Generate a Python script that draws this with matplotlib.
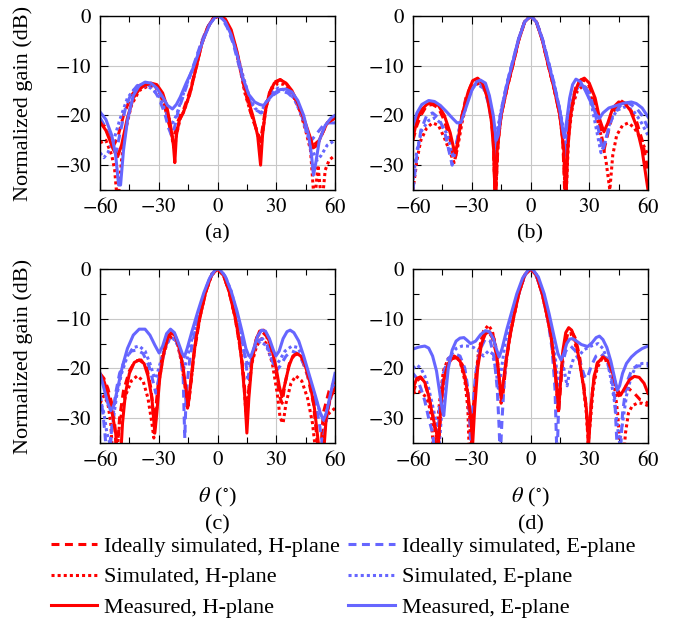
import numpy as np
import matplotlib.pyplot as plt
from matplotlib.ticker import MultipleLocator, FuncFormatter
from matplotlib.lines import Line2D

plt.rcParams['font.family'] = 'Liberation Serif'
plt.rcParams['mathtext.fontset'] = 'stix'
plt.rcParams['font.size'] = 16

RED = '#ff0000'
BLUE = '#6666ff'

# (theta deg, normalized gain dB)
A_IDEAL_H = [(-60,-21),(-57,-22.5),(-54.5,-25),(-53,-26),(-51,-24.5),(-48,-20),(-44,-16),(-40,-14),(-36,-13.5),(-32,-14),(-29,-16),(-26,-19.5),(-24,-23),(-22.5,-25),(-21,-22),(-19,-20),(-17,-18.5),(-14,-15),(-11,-10.5),(-8,-5.5),(-5,-2.3),(-2,-0.4),(0.5,0),(3,-0.6),(6,-2.3),(9,-6),(11.5,-10.5),(14,-15),(17,-19.5),(20,-23),(22,-25),(24,-20),(26,-16),(29,-13.3),(32,-12.8),(35,-13.5),(39,-16),(43,-20),(46,-23.5),(49,-26),(52,-25),(56,-21.5),(60,-20.5)]
A_SIM_H = [(-60,-25.5),(-57,-25),(-54,-28),(-52.5,-31),(-51,-38),(-49,-29),(-47,-23),(-44,-18),(-40,-15),(-35,-14),(-31,-14.5),(-28,-16.5),(-25,-21),(-23,-25),(-22,-27),(-21,-24),(-19,-20.5),(-17,-19),(-14,-15.5),(-11,-10.5),(-8,-5.5),(-5,-2.3),(-2,-0.4),(0.5,0),(3,-0.6),(6,-2.5),(9,-6.3),(11.5,-10.5),(14,-15.5),(17,-19.5),(20,-23),(22,-27),(23.5,-22),(25,-18),(28,-14.5),(31,-13.5),(34,-13.8),(38,-15.5),(42,-19),(45,-23),(47.5,-27),(49.5,-38),(51.3,-30),(53.3,-38),(55,-31),(57,-29),(60,-28)]
A_MEAS_H = [(-60,-21.3),(-57,-23),(-55,-25),(-53,-27),(-51,-28.3),(-49,-26),(-46,-20.5),(-43,-16.5),(-40,-14.8),(-37.5,-14),(-34,-13.5),(-31,-13.8),(-28,-15.5),(-26,-18),(-24,-22),(-22.5,-26),(-21.8,-29.5),(-21,-24),(-19.5,-21),(-17.5,-19.5),(-14,-15.5),(-11,-10.5),(-8,-5.5),(-5,-2.3),(-2,-0.4),(1,0),(4,-0.6),(7,-2.8),(10,-7.2),(12,-11),(15,-16),(18,-20),(20.5,-24),(22,-30),(23,-24),(24.5,-19),(26.5,-15.5),(29,-13.5),(32,-12.8),(35,-13.5),(38,-15),(41,-17.5),(44,-20.5),(47,-24),(49,-26.5),(51,-26),(53,-24),(56,-21.5),(60,-20.5)]
A_IDEAL_E = [(-60,-20.5),(-57,-22.5),(-54,-26),(-52,-28),(-50,-24),(-47,-18.5),(-44,-15.5),(-41,-14),(-37,-13.5),(-33,-14.5),(-30,-16.5),(-27,-19.5),(-25,-22.5),(-23.5,-24),(-22,-22.5),(-20,-19),(-17,-15.5),(-14,-12),(-11,-8.5),(-8,-5),(-5,-2.2),(-2,-0.4),(0,0),(2,-0.3),(5,-2.3),(8,-5.5),(11,-10),(14,-14.5),(17,-17.5),(20,-19),(22.5,-19.5),(25,-17.5),(28,-16),(32,-15),(36,-15.5),(40,-17),(43,-20),(46,-24),(48,-25),(50,-24),(54,-22),(57,-21.5),(60,-21.5)]
A_SIM_E = [(-60,-27.5),(-58,-28.5),(-56,-27.5),(-53,-25),(-50,-21),(-46,-16.5),(-42,-14.5),(-38,-14),(-34,-14.5),(-30,-16),(-27,-18.5),(-25,-20.5),(-23,-21.5),(-21,-20),(-19,-17.5),(-16,-14),(-13,-11),(-10,-7.5),(-7,-4.2),(-4,-1.6),(-1,-0.1),(1,0),(4,-1),(7,-3.6),(10,-7.5),(13,-12),(16,-16),(19,-18.5),(22,-19.5),(24,-18),(27,-15.5),(31,-14.5),(35,-15),(39,-16.5),(43,-20),(46,-24),(49,-27.5),(51,-29),(53,-28),(56,-26),(60,-25)]
A_MEAS_E = [(-60,-19.3),(-57,-20.8),(-54,-24),(-52,-28),(-50.5,-34),(-49.5,-34),(-48,-27),(-46,-21),(-43,-16),(-40,-14),(-37,-13.3),(-34,-13.5),(-31,-14.5),(-28,-16.3),(-25.5,-18),(-23,-18.7),(-21,-17.8),(-19,-16.3),(-16,-13.5),(-13,-11),(-10,-7.8),(-7,-4.5),(-4,-1.7),(-1,-0.1),(1,0),(4,-1.2),(7,-3.8),(10,-7.8),(13,-12.5),(16,-15.8),(19,-17.3),(21.5,-17.8),(23.5,-18),(26,-16.8),(29,-15.5),(32,-14.8),(35,-14.7),(38,-15.3),(41,-17),(44,-20),(46.5,-24),(48,-28),(49,-32),(50,-30),(52,-25),(55,-22),(58,-20.5),(60,-20)]

B_IDEAL_H = [(-60,-25),(-58,-22),(-56,-20),(-53,-18),(-50,-17.8),(-47,-18.5),(-44,-21),(-41,-25),(-39,-29),(-38,-28),(-36,-22),(-33,-16.5),(-30,-13.5),(-27,-12.8),(-24,-13.8),(-22,-16),(-20,-20.5),(-19,-25),(-18,-38),(-16.5,-25),(-15,-20),(-12,-14.5),(-9,-9.8),(-6,-4.8),(-3,-1.2),(0,0),(3,-1.2),(6,-4.8),(9,-9.8),(12,-14.5),(15,-20),(16.5,-25),(17.7,-38),(19,-25),(20.5,-19),(23,-14.5),(26,-12.8),(29,-13.2),(32,-16),(35,-21),(37.5,-27),(39,-24.5),(42,-19.5),(46,-17),(50,-18),(54,-21),(57,-25),(60,-31)]
B_SIM_H = [(-60,-35),(-58,-29),(-56,-25),(-53,-22.5),(-50,-21.5),(-47,-22),(-44,-24.5),(-41,-27.5),(-39,-29.5),(-37,-26),(-35,-21.5),(-32,-16.5),(-29,-14),(-26,-13.5),(-23,-15),(-21,-18),(-19,-24),(-18,-38),(-16.5,-25),(-15,-20),(-12,-14.5),(-9,-9.8),(-6,-4.8),(-3,-1.2),(0,0),(3,-1.2),(6,-4.8),(9,-9.8),(12,-14.5),(15,-20),(16.5,-25),(18,-38),(19.5,-24),(21.5,-18),(24,-15),(27,-14),(30,-15),(33,-19),(36,-24),(38.5,-29),(40.5,-35),(42,-28),(44,-24),(47,-22),(50,-21.5),(53,-22.5),(56,-24.5),(60,-28)]
B_MEAS_H = [(-60,-24.5),(-58,-21),(-56,-19),(-53,-17.8),(-50,-17.3),(-47,-18),(-44,-20),(-41,-23.5),(-39,-27),(-38.3,-27.5),(-37,-25),(-35,-20),(-32,-15.5),(-29.5,-13),(-27,-12.5),(-24.5,-13.5),(-22,-16.5),(-20,-21),(-18.8,-27),(-18,-38),(-17,-27),(-15,-20),(-12,-14.5),(-9,-9.8),(-6,-4.8),(-3,-1.2),(0,0),(3,-1.2),(6,-4.8),(9,-9.8),(12,-14.5),(15,-20),(17,-27),(18,-38),(19,-27),(20.5,-20),(22.5,-15.5),(25,-13),(27.5,-12.5),(30,-13.5),(33,-16.5),(35.5,-21),(37.5,-23.3),(39.5,-21.5),(42,-18.5),(45,-17.3),(48,-17.5),(51,-19),(54,-22),(57,-27),(60,-35)]
B_IDEAL_E = [(-60,-35),(-58,-28),(-56,-23),(-53,-20),(-50,-19.5),(-47,-20.5),(-44,-23),(-42,-26.5),(-40,-30),(-38.5,-27),(-36,-22),(-33,-17),(-30,-14.5),(-27,-13.8),(-24,-14.5),(-21.5,-17.5),(-19.5,-22),(-18,-28),(-17,-24),(-15,-19),(-12,-13.5),(-9,-9),(-6,-4.5),(-3,-1.1),(0,0),(3,-1.1),(6,-4.5),(9,-9),(12,-13.5),(15,-19),(17,-24),(18,-28),(19.5,-22),(21.5,-17),(24,-14),(27,-13.8),(30,-15.5),(33,-19.5),(35.5,-24.5),(37,-27),(39,-24),(42,-20),(46,-18),(50,-17.5),(54,-18.5),(57,-20),(60,-22.5)]
B_SIM_E = [(-60,-33),(-58,-27),(-55.5,-23),(-52,-21),(-49,-20.5),(-46,-21.5),(-43,-23.5),(-41,-26),(-39.5,-28.5),(-38,-26),(-35.5,-21),(-32,-16.5),(-29,-14),(-26,-13.5),(-23,-14.5),(-21,-17),(-19.5,-21),(-18.3,-27),(-17,-23),(-15,-19),(-12,-13.5),(-9,-9),(-6,-4.5),(-3,-1.1),(0,0),(3,-1.1),(6,-4.5),(9,-9),(12,-13.5),(15,-19),(17,-23),(18.3,-26),(20,-20),(22.5,-15.5),(25.5,-13.5),(28.5,-14.5),(31.5,-18.5),(34,-23.5),(36,-27.5),(38,-25.5),(40.5,-21.5),(44,-19),(48,-18.3),(52,-18.8),(56,-21),(60,-24)]
B_MEAS_E = [(-60,-22),(-58,-19.5),(-55.5,-17.8),(-52,-17),(-49,-17.2),(-46,-18),(-43,-19.2),(-40,-20.5),(-37.5,-21.5),(-35.5,-21.4),(-33,-18.5),(-30,-15),(-27.5,-13.2),(-25.5,-12.9),(-23,-13.5),(-21,-16),(-19,-20),(-17.5,-25),(-16.5,-24),(-15,-19.5),(-12,-13.8),(-9,-9.2),(-6,-4.6),(-3,-1.2),(0,0),(3,-1.2),(6,-4.6),(9,-9.2),(12,-13.8),(15,-19),(16.5,-23),(17.3,-24.5),(18.5,-21),(20,-16.5),(21.5,-13.8),(23.2,-12.7),(25.5,-13.2),(28,-15),(31,-17.5),(33.5,-19.8),(35.2,-20.6),(37,-19.5),(40,-18.5),(44,-18),(48,-17.5),(51.5,-17.3),(54,-17.6),(57,-18.5),(60,-20.3)]

C_IDEAL_H = [(-60,-21),(-58,-22),(-56,-24),(-54,-27),(-52.5,-31),(-51.5,-38),(-50,-30),(-48,-24.5),(-45,-20.5),(-42,-18.5),(-39,-18.3),(-36,-20),(-34,-24),(-32.5,-30),(-31.5,-28),(-30,-22),(-28,-17),(-25.5,-13.5),(-23.5,-12.8),(-21,-14),(-18.5,-18),(-16.5,-24),(-15.3,-28),(-14.5,-26),(-13,-21),(-12,-17),(-9,-9.7),(-6,-4.6),(-3,-1.2),(0,0),(3,-1.2),(6,-4.6),(9,-9.7),(12,-17),(13.5,-22),(15,-31),(16,-24),(17.5,-18),(20,-13.8),(22.5,-12.5),(25,-13.5),(28,-17),(30.5,-22),(32,-26),(33,-27),(34.5,-23),(37,-18.5),(40,-17),(43,-18),(46,-21.5),(49,-27),(51,-35),(52.5,-38),(54,-29),(57,-24.5),(60,-22.5)]
C_SIM_H = [(-60,-27),(-58,-25.5),(-56,-27),(-54.5,-31),(-53.5,-38),(-51.5,-38),(-50,-31),(-47,-25.5),(-44,-22.5),(-41,-21.5),(-38,-22.5),(-35.5,-26),(-33.5,-31),(-32.5,-34),(-31.5,-30),(-30,-23),(-28,-18),(-25.5,-14.5),(-23,-13.5),(-20.5,-15),(-18.5,-18.5),(-16.5,-24),(-15.5,-28),(-14.5,-26),(-13,-21),(-12,-17),(-9,-9.7),(-6,-4.6),(-3,-1.2),(0,0),(3,-1.2),(6,-4.6),(9,-9.7),(12,-17),(13.5,-23),(14.5,-29),(15.5,-26),(17.5,-19),(20,-15.5),(22.5,-14),(25,-15),(28,-19),(30.5,-25),(32,-30),(33.5,-31),(35,-27),(37.5,-23),(40,-21.5),(43,-22.5),(46,-26),(48.5,-31),(50.5,-38),(52.5,-38),(54.5,-31),(57,-29),(60,-28)]
C_MEAS_H = [(-60,-21.5),(-58,-22.5),(-56,-25),(-54,-28.5),(-52,-33),(-51,-38),(-49.5,-38),(-48.5,-31),(-47,-25),(-45,-21),(-42.5,-18.8),(-40,-18.3),(-37.5,-19),(-35.5,-21.5),(-33.5,-26),(-32,-33),(-31,-29),(-29.5,-22),(-27.5,-17),(-25.5,-14),(-23.5,-12.8),(-21.5,-13.5),(-19.5,-16),(-17.5,-20),(-15.8,-25),(-15,-27.5),(-14,-24),(-12.5,-18.5),(-11,-14),(-9,-9.7),(-6,-4.6),(-3,-1.2),(0,0),(3,-1.2),(6,-4.6),(9,-9.7),(11,-14),(12.5,-19),(14,-26),(15,-33),(16,-26),(17.5,-19),(19.5,-14.5),(21.5,-12.5),(23.5,-12.3),(25.5,-13.5),(28,-16.5),(30,-20),(31.5,-23.5),(32.9,-25.7),(34.5,-23),(36.5,-19.5),(38.5,-17.5),(40.5,-17),(42.5,-17.5),(44.5,-19),(47,-22.5),(49.5,-28),(51.5,-35),(52.5,-38),(54,-38),(55.5,-30),(57.5,-26),(60,-24)]
C_IDEAL_E = [(-60,-25),(-58.5,-29),(-57.5,-33),(-56.5,-38),(-55,-38),(-54,-32),(-52,-25),(-50,-21),(-47,-18),(-44,-16.5),(-41,-16.3),(-38,-17),(-35,-19.5),(-33,-22.5),(-31.5,-25),(-30,-22),(-28,-18),(-26,-15),(-23.5,-13.5),(-21,-14.5),(-19,-17),(-17.5,-22),(-17,-30),(-16.7,-34),(-16,-25),(-14,-17.5),(-12,-13.5),(-9,-8.5),(-6,-4),(-3,-1),(0,0),(3,-1),(6,-4),(9,-8.5),(12,-13.5),(14,-17.5),(15.5,-22),(16.5,-20),(18,-17),(20.5,-14.5),(23,-14),(25.5,-15.5),(28,-18.5),(30,-20.5),(32,-19.5),(35,-17.5),(38,-16.5),(41,-17),(44,-19),(47,-22.5),(50,-27),(52,-31),(53.5,-35),(55,-32),(57,-27),(60,-23)]
C_SIM_E = [(-60,-26),(-58,-29),(-56.5,-33),(-55,-35),(-53.5,-31),(-51.5,-25.5),(-49,-21),(-46,-17.5),(-43,-15.8),(-40,-15.5),(-37,-16.5),(-34.5,-19),(-32.5,-21.5),(-31.5,-22),(-30,-20),(-27.5,-16.5),(-25,-14.5),(-22.5,-14),(-20,-15.5),(-18,-18.5),(-17,-20),(-15.5,-18),(-13,-14),(-10,-9.5),(-7,-5.3),(-4,-2),(-1,-0.1),(1,0),(4,-1.5),(7,-4.5),(10,-9),(12.5,-14),(14,-17.5),(15.5,-19.5),(17,-18),(19.5,-15.5),(22,-14.5),(25,-15.5),(27.5,-18),(29.5,-19.5),(31.5,-18.5),(34.5,-16.5),(38,-15.5),(41,-15.8),(44,-18),(47,-22),(50,-26),(53,-29.5),(54.5,-30.5),(56.5,-28),(58.5,-25),(60,-23)]
C_MEAS_E = [(-60,-21),(-58,-24),(-56,-27),(-54.5,-28.5),(-53,-27.5),(-51,-24),(-48.5,-19.5),(-46,-16),(-43,-13.3),(-40,-12.1),(-37,-12.1),(-34.5,-13.3),(-32,-15.3),(-29.8,-16.9),(-28,-15.5),(-26,-13),(-24,-12.1),(-22,-12.8),(-20,-14.8),(-18,-17),(-16.9,-17.7),(-15.5,-16),(-13,-12.5),(-10,-8.5),(-7,-4.8),(-4,-1.8),(-1,-0.1),(1,0),(4,-1.5),(7,-4.5),(10,-8.5),(12.5,-12.5),(14.5,-16),(16,-17.5),(17,-17.6),(18.5,-16),(20.5,-13.5),(22.5,-12.3),(24.5,-12.5),(26.5,-14),(28.5,-16.3),(29.8,-17.5),(31.5,-16.5),(33.5,-14),(35.5,-12.6),(37.1,-12.3),(39,-12.8),(41.5,-14.5),(44,-17.5),(47,-21.5),(50,-25.5),(52.5,-29),(54.1,-30.4),(55.5,-29),(57.5,-25.5),(60,-21)]

D_IDEAL_H = [(-60,-25),(-58,-22.5),(-56,-21.8),(-54,-23),(-52,-25.5),(-50,-29),(-48.5,-33),(-47.5,-38),(-46.5,-33),(-45,-24),(-43,-20),(-40,-18),(-37,-17.8),(-34.5,-19.5),(-32.5,-23.5),(-31,-30),(-30.5,-38),(-29.5,-30),(-28,-22),(-26,-16),(-24,-13.3),(-21.5,-12.6),(-19.5,-13.8),(-17.5,-17),(-16,-22),(-15,-27),(-14,-25),(-12.5,-19),(-10.5,-13.5),(-8.5,-9.5),(-6,-5),(-3,-1.2),(0,0),(3,-1.2),(6,-5),(8.5,-9.5),(10.5,-13.5),(12.5,-20),(13.5,-25),(14.3,-29),(15.5,-23),(17,-16.5),(19,-13),(21,-12.5),(23,-14),(25,-17.5),(27,-22.5),(28.5,-28),(29.5,-35),(30.5,-30),(32,-23),(34,-19),(36.5,-17.5),(39,-18),(41.5,-20.5),(43.5,-23.5),(45,-25.5),(47,-24.5),(50,-24),(53,-25),(56,-26.3),(58,-26.5),(60,-27)]
D_SIM_H = [(-60,-25),(-58,-24.5),(-56,-24.8),(-54,-25.5),(-52,-27),(-50.5,-30),(-49.5,-38),(-48,-33),(-46.5,-27),(-44.5,-20.5),(-42,-18),(-39,-17.5),(-36,-18.5),(-33.5,-22.5),(-32,-28),(-31.2,-38),(-30,-35),(-28.5,-24),(-26.5,-16.5),(-24,-12.5),(-21.5,-11.3),(-19.5,-12.5),(-17.5,-16),(-16,-21.5),(-15,-26),(-14,-24),(-12.5,-19),(-10.5,-13.5),(-8.5,-9.5),(-6,-5),(-3,-1.2),(0,0),(3,-1.2),(6,-5),(8.5,-9.5),(10.5,-13.5),(12.5,-20),(14,-28),(15,-23),(16.5,-17),(18.5,-13.3),(20.5,-13),(22.5,-14.5),(25,-18.5),(27,-23.5),(28.5,-29),(29.5,-35),(30.5,-31),(32,-24),(34,-20),(36.5,-18),(39,-18.5),(41,-20.5),(43,-24),(44.5,-29),(46,-38),(47.5,-38),(48.5,-33),(50,-29),(52,-27.5),(54.5,-27),(57,-27),(60,-27.5)]
D_MEAS_H = [(-60,-24),(-58,-22),(-56.2,-21.7),(-54,-22.8),(-52,-25.5),(-50,-29.5),(-48.5,-32),(-47,-35),(-46,-29),(-44.5,-22.5),(-42,-19),(-40,-18),(-38.3,-17.7),(-36,-18.5),(-34,-21),(-32,-25),(-30.5,-30),(-29.5,-35),(-28.5,-28),(-27,-20),(-25,-15),(-23,-13),(-21,-12.6),(-19,-13.5),(-17.5,-16.5),(-16,-22),(-15,-26),(-14,-23),(-12.5,-18.5),(-10.5,-13.5),(-8.5,-9.5),(-6,-5),(-3,-1.2),(0,0),(3,-1.2),(6,-5),(8.5,-9.5),(10.5,-13.5),(12.5,-20),(13.7,-25),(14.4,-28.4),(15.3,-23),(16.5,-16.5),(18,-12.8),(19.5,-11.8),(21,-12.3),(23,-14.5),(25,-18.5),(27,-23.5),(28.5,-28),(29.7,-35),(31,-27),(32.5,-21.5),(34.5,-18.8),(37,-17.7),(39.5,-18.5),(42,-21),(44,-24),(46,-25.4),(48,-24),(50.5,-22.3),(53,-21.6),(55.5,-21.8),(58,-23),(60,-25)]
D_IDEAL_E = [(-60,-21),(-58,-22),(-56,-24),(-54,-26.5),(-52,-30),(-50,-33),(-48.8,-38),(-47.8,-38),(-46.5,-28),(-44.5,-21),(-42,-18),(-39,-17),(-36,-17.5),(-33.5,-20),(-32,-24),(-31,-30),(-30.5,-35),(-29.5,-28),(-28,-21),(-25.5,-16),(-23,-14),(-20.5,-14.5),(-18.5,-18),(-17,-24),(-16,-32),(-15.5,-38),(-14.5,-30),(-13,-20),(-11,-14),(-9,-10),(-6,-5),(-3,-1.3),(0,0),(3,-1.3),(6,-5),(9,-10.5),(11,-16),(12.5,-24),(13.3,-35),(13.8,-35),(14.5,-26),(16,-19.5),(18,-16.5),(20.5,-15.5),(23,-16.5),(25.5,-19),(27.5,-21.5),(29,-22),(31,-19.5),(33.5,-17.5),(36,-17),(38.5,-18),(41,-21),(43,-26),(44.5,-38),(45.8,-38),(47,-29),(49,-23),(52,-20),(55,-19.5),(60,-19.5)]
D_SIM_E = [(-60,-20),(-58,-19.3),(-56,-20),(-54,-21.5),(-52,-24),(-50,-27.5),(-48,-31),(-46.5,-35),(-45,-27),(-43.5,-21),(-41,-17.5),(-38,-16),(-35,-15.5),(-32,-15.5),(-29,-15.8),(-26.5,-16.5),(-24,-17.5),(-21.5,-16.5),(-19.5,-17),(-17.5,-20.5),(-16.5,-24),(-15.5,-22),(-13,-15),(-10.5,-11),(-8,-7.5),(-5,-3.5),(-2,-0.6),(0,0),(2,-0.6),(5,-3.5),(8,-8),(11,-13.5),(13,-19),(14.5,-24.5),(15.5,-21),(17,-20),(18.7,-23.5),(20,-20.5),(22,-18),(24.5,-17.5),(27.5,-16.2),(31,-15.5),(34.5,-15),(37,-16),(39,-18),(41,-22),(43,-27),(44.5,-32),(45.5,-35),(47,-31),(49,-25.5),(51.5,-21.5),(54,-19.5),(57,-19),(60,-19)]
D_MEAS_E = [(-60,-16.1),(-57,-15.7),(-54,-15.5),(-52,-15.9),(-50,-17.5),(-48,-20.5),(-46.5,-24.5),(-45,-28.5),(-44.3,-29.5),(-43.5,-26),(-42,-20),(-40,-16.3),(-38,-14.5),(-36,-13.9),(-34,-13.8),(-32.5,-14.3),(-30.6,-15),(-28,-14.5),(-25.5,-13.2),(-23,-12.4),(-21,-12.6),(-19,-14),(-17.5,-16),(-16,-17.7),(-14.5,-16),(-12,-12),(-9.5,-8.5),(-7,-5),(-4,-1.8),(-1,-0.1),(1,0),(4,-1.6),(7,-5),(9.5,-9),(12,-13.5),(14,-17),(15.6,-18.3),(17,-17),(18.5,-15),(20,-14.1),(21.5,-14),(23.5,-14.5),(26,-15.2),(29.2,-15.6),(31.5,-14.8),(33.5,-13.8),(35.2,-13.5),(37,-14.2),(39,-15.8),(41,-18.5),(43,-22),(44.3,-24.4),(45.5,-23.5),(47,-21),(49,-19),(51.5,-17.7),(54,-16.8),(57,-16),(60,-15.5)]

labels = ['Ideally simulated, H-plane', 'Simulated, H-plane', 'Measured, H-plane',
          'Ideally simulated, E-plane', 'Simulated, E-plane', 'Measured, E-plane']
colors = [RED, RED, RED, BLUE, BLUE, BLUE]
dash = (0, (2.6, 1.8))
dot = (0, (1, 1))
styles = [dash, dot, '-', dash, dot, '-']

panels = [
    ('(a)', [A_IDEAL_H, A_SIM_H, A_MEAS_H, A_IDEAL_E, A_SIM_E, A_MEAS_E]),
    ('(b)', [B_IDEAL_H, B_SIM_H, B_MEAS_H, B_IDEAL_E, B_SIM_E, B_MEAS_E]),
    ('(c)', [C_IDEAL_H, C_SIM_H, C_MEAS_H, C_IDEAL_E, C_SIM_E, C_MEAS_E]),
    ('(d)', [D_IDEAL_H, D_SIM_H, D_MEAS_H, D_IDEAL_E, D_SIM_E, D_MEAS_E]),
]

W, H = 674, 620
boxes = [(100, 16), (413, 16), (100, 269), (413, 269)]
aw, ah = 235, 174

math_fmt = FuncFormatter(lambda v, pos: r'$%d$' % round(v))

fig = plt.figure(figsize=(W / 100, H / 100), dpi=100)
for i, (tag, curves) in enumerate(panels):
    x0, y0 = boxes[i]
    ax = fig.add_axes([x0 / W, 1 - (y0 + ah) / H, aw / W, ah / H])
    order = [1, 0, 4, 3, 2, 5]
    for k in order:
        d = np.array(curves[k])
        ax.plot(d[:, 0], d[:, 1], color=colors[k], ls=styles[k], lw=2.2,
                solid_joinstyle='round')
    ax.set_xlim(-60, 60)
    ax.set_ylim(-35, 0)
    ax.xaxis.set_major_locator(MultipleLocator(30))
    ax.xaxis.set_minor_locator(MultipleLocator(15))
    ax.yaxis.set_major_locator(MultipleLocator(10))
    ax.yaxis.set_minor_locator(MultipleLocator(5))
    ax.xaxis.set_major_formatter(math_fmt)
    ax.yaxis.set_major_formatter(math_fmt)
    ax.grid(True, which='major', color='#c8c8c8', lw=0.8)
    ax.set_axisbelow(True)
    ax.tick_params(which='both', direction='in', top=True, right=True, width=0.8,
                   labelsize=15)
    ax.tick_params(which='major', length=6, pad=6)
    ax.tick_params(which='minor', length=4.5)
    for s in ax.spines.values():
        s.set_linewidth(1.0)
    if i % 2 == 0:
        ax.set_ylabel('Normalized gain (dB)')
        ax.yaxis.set_label_coords(-0.285, 0.5)
    if i >= 2:
        ax.set_xlabel(r'$\theta$ ($^{\circ}$)')
        ax.xaxis.set_label_coords(0.5, -0.245)
        ax.text(0.5, -0.47, tag, transform=ax.transAxes, ha='center', va='center')
    else:
        ax.text(0.5, -0.25, tag, transform=ax.transAxes, ha='center', va='center')

handles = [Line2D([], [], color=colors[k], ls=styles[k], lw=2.2) for k in range(6)]
fig.legend(handles, labels, ncol=2, loc='center', bbox_to_anchor=(343 / W, 1 - 577 / H),
           frameon=False, borderpad=0, handlelength=2.1, handletextpad=0.32,
           columnspacing=0.36, labelspacing=0.44, fontsize=16)

fig.savefig('out.png', dpi=100)
